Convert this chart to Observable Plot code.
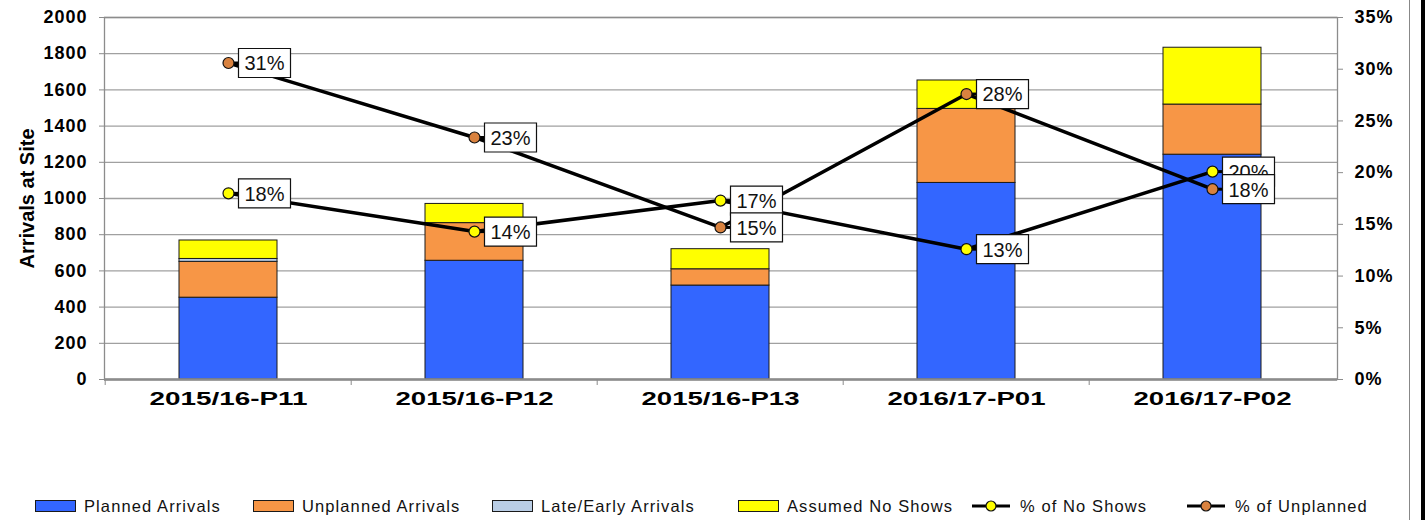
<!DOCTYPE html>
<html>
<head>
<meta charset="utf-8">
<script src="https://cdn.jsdelivr.net/npm/d3@7"></script>
<script src="https://cdn.jsdelivr.net/npm/@observablehq/plot@0.6"></script>
<style>
  body { margin: 0; background: white; font-family: "Liberation Sans", Arial, sans-serif; }
  #wrap { position: relative; width: 1427px; height: 520px; overflow: hidden; background: white; }
  #chart svg { display: block; }
  g[aria-label="y-axis label"] text { font-size: 20px; }
  g[aria-label="y-axis tick label"] text { letter-spacing: 1px; }
  #legend { position: absolute; left: 0; top: 496px; width: 1427px; height: 20px; font-size: 16.5px; color: #111; }
  .item { position: absolute; top: 0; height: 20px; display: flex; align-items: center; white-space: nowrap; letter-spacing: 1.1px; }
  .sw { width: 39px; height: 10px; border: 1px solid #1a1a1a; margin-right: 8px; }
  .mk { margin-right: 8px; }
  #gline { position: absolute; left: 1409px; top: 0; width: 1px; height: 520px; background: #888; }
  #bline { position: absolute; left: 1421px; top: 0; width: 4px; height: 520px; background: #000; }
</style>
</head>
<body>
<div id="wrap">
  <div id="chart"></div>
  <div id="legend"></div>
  <div id="gline"></div>
  <div id="bline"></div>
</div>
<script>
// ---- data ----
const categories = ["2015/16-P11", "2015/16-P12", "2015/16-P13", "2016/17-P01", "2016/17-P02"];
const seriesNames = ["Planned Arrivals", "Unplanned Arrivals", "Late/Early Arrivals", "Assumed No Shows"];
const planned    = [452, 656, 519, 1086, 1242];
const unplanned  = [198, 208,  90,  409,  277];
const lateEarly  = [ 16,   0,   0,    0,    0];
const noShows    = [102, 106, 111,  157,  314];
const pctNoShows   = [18.0, 14.3, 17.3, 12.6, 20.1];
const pctUnplanned = [30.6, 23.4, 14.7, 27.6, 18.4];
const leftTicks  = [0, 200, 400, 600, 800, 1000, 1200, 1400, 1600, 1800, 2000];
const rightTicks = [0, 5, 10, 15, 20, 25, 30, 35];
const lineNames = ["% of No Shows", "% of Unplanned"];

// ---- styles ----
const barColors = ["#3366FF", "#F79646", "#B9CDE5", "#FFFF00"];
const dotColors = ["#FFFF00", "#D9823F"];

// ---- build tables ----
const seriesValues = [planned, unplanned, lateEarly, noShows];
const barRows = [];
categories.forEach((c, i) => {
  seriesNames.forEach((s, j) => {
    if (seriesValues[j][i] > 0) barRows.push({cat: c, series: s, value: seriesValues[j][i]});
  });
});
const pctRows = categories.map((c, i) => ({cat: c, noShow: pctNoShows[i], unpl: pctUnplanned[i]}));

const W = 1427, H = 470, mL = 104, mR = 90, mT = 17, mB = 91;
const yMax = 2000, pMax = 35, k = yMax / pMax;
const step = (W - mL - mR) / categories.length;

const boxSymbol = {draw(ctx) { ctx.rect(10, -14.5, 52, 29); }};
const leaderSymbol = {draw(ctx) { ctx.moveTo(0, 0); ctx.lineTo(11, 0); }};

const pctFmt = v => Math.round(v) + "%";

const chart = Plot.plot({
  width: W, height: H,
  marginLeft: mL, marginRight: mR, marginTop: mT, marginBottom: mB,
  style: {fontFamily: "'Liberation Sans', Arial, sans-serif", background: "white", color: "black", overflow: "visible"},
  x: {domain: categories, paddingInner: 0.6, paddingOuter: 0.3, axis: null},
  y: {domain: [0, yMax], axis: null},
  color: {domain: seriesNames, range: barColors},
  marks: [
    Plot.gridY(leftTicks, {stroke: "#a0a0a0", strokeOpacity: 1, strokeWidth: 1.3}),
    Plot.barY(barRows, {x: "cat", y: "value", fill: "series", stroke: "#1a1a1a", strokeWidth: 1, order: seriesNames}),
    Plot.frame({stroke: "#8c8c8c", strokeWidth: 1.3}),
    Plot.ruleY([0], {stroke: "#8c8c8c", strokeWidth: 2.5}),
    Plot.axisY(leftTicks, {anchor: "left", tickSize: 5, tickPadding: 12, fontSize: 18, fontWeight: "bold",
      stroke: "#8c8c8c", fill: "black", tickFormat: d => String(d),
      label: "Arrivals at Site", labelAnchor: "center", labelArrow: "none", labelOffset: 85}),
    Plot.axisY(rightTicks.map(p => p * k), {anchor: "right", tickSize: 5, tickPadding: 12, fontSize: 18, fontWeight: "bold",
      stroke: "#8c8c8c", fill: "black", tickFormat: d => Math.round(d / k) + "%", label: null}),
    Plot.axisX({tickSize: 0, tickPadding: 13, fontSize: 18, fontWeight: "bold", fill: "black", label: null}),
    Plot.axisX({tickSize: 6, text: null, dx: -step / 2, stroke: "#8c8c8c", label: null}),
    // lines
    Plot.line(pctRows, {x: "cat", y: d => d.noShow * k, stroke: "black", strokeWidth: 3.5}),
    Plot.line(pctRows, {x: "cat", y: d => d.unpl * k, stroke: "black", strokeWidth: 3.5}),
    // leaders
    Plot.dot(pctRows, {x: "cat", y: d => d.noShow * k, symbol: leaderSymbol, r: 5, fill: "none", stroke: "black", strokeWidth: 3}),
    Plot.dot(pctRows, {x: "cat", y: d => d.unpl * k, symbol: leaderSymbol, r: 5, fill: "none", stroke: "black", strokeWidth: 3}),
    // points
    Plot.dot(pctRows, {x: "cat", y: d => d.noShow * k, r: 5.5, fill: dotColors[0], stroke: "#111", strokeWidth: 1.2}),
    Plot.dot(pctRows, {x: "cat", y: d => d.unpl * k, r: 5.5, fill: dotColors[1], stroke: "#111", strokeWidth: 1.2}),
    // data labels: no shows
    Plot.dot(pctRows, {x: "cat", y: d => d.noShow * k, symbol: boxSymbol, r: 5, fill: "white", stroke: "#111", strokeWidth: 1.2}),
    Plot.text(pctRows, {x: "cat", y: d => d.noShow * k, text: d => pctFmt(d.noShow), dx: 36, dy: 1, fontSize: 20, fill: "#111"}),
    // data labels: unplanned
    Plot.dot(pctRows, {x: "cat", y: d => d.unpl * k, symbol: boxSymbol, r: 5, fill: "white", stroke: "#111", strokeWidth: 1.2}),
    Plot.text(pctRows, {x: "cat", y: d => d.unpl * k, text: d => pctFmt(d.unpl), dx: 36, dy: 1, fontSize: 20, fill: "#111"})
  ]
});
document.getElementById("chart").appendChild(chart);

// widen category labels to match the reference's wide lettering
d3.select(chart).selectAll('g[aria-label="x-axis tick label"] text')
  .attr("textLength", 158).attr("lengthAdjust", "spacingAndGlyphs");

// ---- legend ----
const legend = document.getElementById("legend");
const itemLeft = [35, 253, 492, 738, 970, 1185];
seriesNames.forEach((s, j) => {
  const it = document.createElement("div");
  it.className = "item";
  it.style.left = itemLeft[j] + "px";
  it.innerHTML = `<span class="sw" style="background:${barColors[j]}"></span><span>${s}</span>`;
  legend.appendChild(it);
});
lineNames.forEach((s, j) => {
  const it = document.createElement("div");
  it.className = "item";
  it.style.left = itemLeft[4 + j] + "px";
  it.innerHTML = `<svg class="mk" width="42" height="14"><line x1="2" x2="40" y1="7" y2="7" stroke="black" stroke-width="3"/><circle cx="21" cy="7" r="5" fill="${dotColors[j]}" stroke="#111" stroke-width="1.2"/></svg><span>${s}</span>`;
  legend.appendChild(it);
});
</script>
</body>
</html>
